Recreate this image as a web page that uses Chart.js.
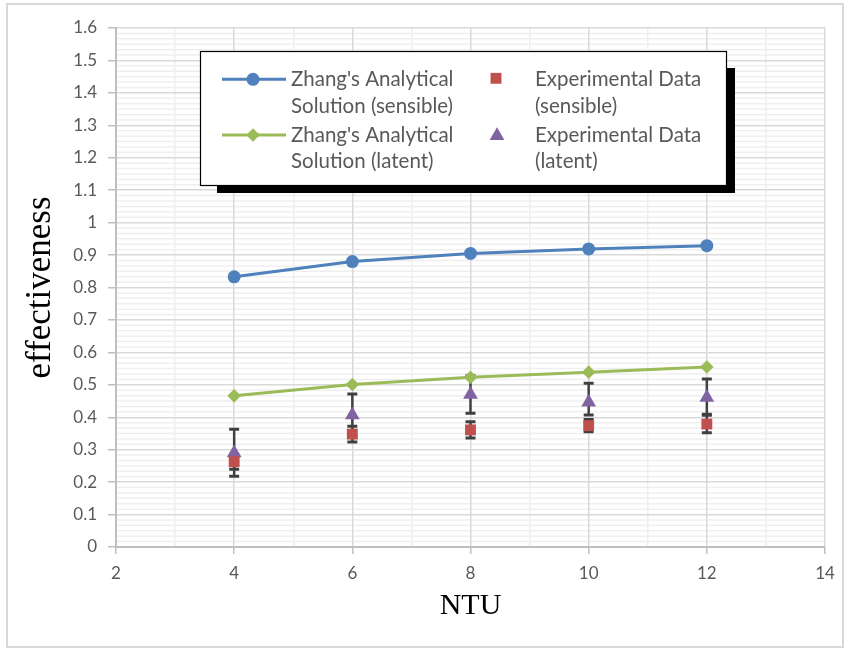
<!DOCTYPE html>
<html lang="en">
<head>
  <meta charset="UTF-8">
  <title>Effectiveness vs NTU</title>
  <script src="https://cdn.jsdelivr.net/npm/chart.js"></script>
  <style>
    html, body { margin: 0; padding: 0; background: #fff; }
    canvas { display: block; }
  </style>
</head>
<body>
  <canvas id="effChart" width="850" height="648"></canvas>

  <script>
    // NTU values where the model and the tests were evaluated
    const ntu = [4, 6, 8, 10, 12];

    // Zhang's analytical solution
    const sensibleModel = [0.833, 0.880, 0.905, 0.919, 0.929];
    const latentModel = [0.466, 0.501, 0.523, 0.539, 0.555];

    // experimental data with the ends of their error bars
    const sensibleExp = [0.263, 0.348, 0.361, 0.374, 0.379];
    const sensibleExpLow = [0.240, 0.324, 0.336, 0.355, 0.352];
    const sensibleExpHigh = [0.286, 0.372, 0.386, 0.393, 0.406];
    const latentExp = [0.290, 0.407, 0.470, 0.446, 0.461];
    const latentExpLow = [0.218, 0.342, 0.412, 0.407, 0.409];
    const latentExpHigh = [0.363, 0.472, 0.528, 0.505, 0.518];

    const yTicks = ['0', '0.1', '0.2', '0.3', '0.4', '0.5', '0.6', '0.7', '0.8', '0.9', '1',
                    '1.1', '1.2', '1.3', '1.4', '1.5', '1.6'];

    const BLUE = '#4F81BD', RED = '#C0504D', GREEN = '#9BBB59', PURPLE = '#8064A2';
    const TEXT = '#595959';

    function points(ys, lows, highs) {
      return ntu.map((x, i) => {
        const p = { x: x, y: ys[i] };
        if (lows) { p.yMin = lows[i]; p.yMax = highs[i]; }
        return p;
      });
    }

    // light minor gridlines under the major grid
    const minorGrid = {
      id: 'minorGrid',
      beforeDraw(chart) {
        const { ctx, chartArea: a, scales: { y } } = chart;
        ctx.save();
        ctx.strokeStyle = '#efefef';
        ctx.lineWidth = 1.5;
        for (let i = 0; i <= 96; i++) {
          if (i % 6 === 0) continue;
          const py = y.getPixelForValue(i / 60);
          ctx.beginPath();
          ctx.moveTo(a.left, py);
          ctx.lineTo(a.right, py);
          ctx.stroke();
        }
        ctx.restore();
      }
    };

    // vertical error bars for every point carrying yMin / yMax
    const errorBars = {
      id: 'errorBars',
      beforeDatasetsDraw(chart) {
        const { ctx, scales: { x, y } } = chart;
        ctx.save();
        ctx.strokeStyle = '#404040';
        chart.data.datasets.forEach(ds => {
          ds.data.forEach(p => {
            if (p.yMin === undefined) return;
            const px = x.getPixelForValue(p.x);
            const top = y.getPixelForValue(p.yMax);
            const bot = y.getPixelForValue(p.yMin);
            ctx.lineWidth = 2.5;
            ctx.beginPath();
            ctx.moveTo(px, top);
            ctx.lineTo(px, bot);
            ctx.stroke();
            ctx.lineWidth = 3;
            ctx.beginPath();
            ctx.moveTo(px - 5, top);
            ctx.lineTo(px + 5, top);
            ctx.moveTo(px - 5, bot);
            ctx.lineTo(px + 5, bot);
            ctx.stroke();
          });
        });
        ctx.restore();
      }
    };

    function marker(ctx, ds, x, y) {
      ctx.fillStyle = ds.backgroundColor;
      ctx.strokeStyle = ds.borderColor;
      Chart.helpers.drawPoint(ctx, {
        pointStyle: ds.pointStyle, radius: ds.pointRadius, rotation: 0, borderWidth: 0
      }, x, y);
    }

    // boxed legend with a drop shadow, two columns of wrapped labels
    const boxLegend = {
      id: 'boxLegend',
      afterDraw(chart) {
        const { ctx } = chart;
        const ds = chart.data.datasets;
        ctx.save();
        ctx.fillStyle = '#000';
        ctx.fillRect(217, 68, 518, 125);
        ctx.fillStyle = '#fff';
        ctx.fillRect(200.5, 51.5, 526, 134);
        ctx.strokeStyle = '#000';
        ctx.lineWidth = 1.2;
        ctx.strokeRect(200.5, 51.5, 526, 134);

        // line samples
        [[ds[0], 79.3], [ds[2], 135]].forEach(([d, ly]) => {
          ctx.strokeStyle = d.borderColor;
          ctx.lineWidth = 3;
          ctx.beginPath();
          ctx.moveTo(222, ly);
          ctx.lineTo(286, ly);
          ctx.stroke();
          marker(ctx, d, 253, ly);
        });
        marker(ctx, ds[1], 496, 78.3);
        marker(ctx, ds[3], 497, 135.7);

        ctx.fillStyle = TEXT;
        ctx.font = '20.5px Lato';
        ctx.textBaseline = 'alphabetic';
        ctx.textAlign = 'left';
        ctx.fillText("Zhang's Analytical", 291, 86);
        ctx.fillText('Solution (sensible)', 291, 113);
        ctx.fillText("Zhang's Analytical", 291, 141.5);
        ctx.fillText('Solution (latent)', 291, 168);
        ctx.fillText('Experimental Data', 535, 86);
        ctx.fillText('(sensible)', 535, 113);
        ctx.fillText('Experimental Data', 535, 141.5);
        ctx.fillText('(latent)', 535, 168);

        // outer chart border
        ctx.strokeStyle = '#d9d9d9';
        ctx.lineWidth = 2;
        ctx.strokeRect(7, 4, 836, 643);
        ctx.restore();
      }
    };

    Chart.defaults.font.family = 'Lato';
    Chart.defaults.color = TEXT;

    const ctx = document.getElementById('effChart').getContext('2d');
    new Chart(ctx, {
      type: 'scatter',
      data: {
        datasets: [
          {
            label: "Zhang's Analytical Solution (sensible)",
            data: points(sensibleModel),
            showLine: true,
            borderColor: BLUE, backgroundColor: BLUE, borderWidth: 3,
            pointStyle: 'circle', pointRadius: 6.5, pointBorderWidth: 0
          },
          {
            label: 'Experimental Data (sensible)',
            data: points(sensibleExp, sensibleExpLow, sensibleExpHigh),
            showLine: false,
            borderColor: RED, backgroundColor: RED,
            pointStyle: 'rect', pointRadius: 7.7, pointBorderWidth: 0
          },
          {
            label: "Zhang's Analytical Solution (latent)",
            data: points(latentModel),
            showLine: true,
            borderColor: GREEN, backgroundColor: GREEN, borderWidth: 3,
            pointStyle: 'rectRot', pointRadius: 6.8, pointBorderWidth: 0
          },
          {
            label: 'Experimental Data (latent)',
            data: points(latentExp, latentExpLow, latentExpHigh),
            showLine: false,
            borderColor: PURPLE, backgroundColor: PURPLE,
            pointStyle: 'triangle', pointRadius: 8.5, pointBorderWidth: 0
          }
        ]
      },
      options: {
        responsive: false,
        devicePixelRatio: 1,
        animation: false,
        layout: { padding: { left: 0, top: 28, right: 25, bottom: 0 } },
        plugins: { legend: { display: false }, tooltip: { enabled: false } },
        scales: {
          x: {
            type: 'linear', min: 2, max: 14,
            afterFit: s => { s.height = 101; },
            ticks: {
              stepSize: 1, autoSkip: false, padding: 9,
              font: { size: 17 }, color: TEXT,
              callback: v => (v % 2 === 0 ? String(v) : '')
            },
            grid: {
              lineWidth: 1.5, tickLength: 7,
              color: c => (c.tick && c.tick.value % 2 !== 0 ? '#efefef' : '#d9d9d9'),
              tickColor: c => (c.tick && c.tick.value % 2 !== 0 ? 'rgba(0,0,0,0)' : '#bfbfbf')
            },
            border: { color: '#bfbfbf', width: 2 },
            title: {
              display: true, text: 'NTU', color: '#000',
              font: { family: 'Liberation Serif', size: 30 },
              padding: { top: 0, bottom: 24 }
            }
          },
          y: {
            type: 'linear', min: 0, max: 1.6,
            afterFit: s => { s.width = 116; },
            ticks: {
              stepSize: 0.1, autoSkip: false, padding: 11,
              font: { size: 17 }, color: TEXT,
              callback: (v, i) => yTicks[i]
            },
            grid: { lineWidth: 1.5, tickLength: 8, color: '#d9d9d9', tickColor: '#bfbfbf' },
            border: { color: '#bfbfbf', width: 2 },
            title: {
              display: true, text: 'effectiveness', color: '#000',
              font: { family: 'Liberation Serif', size: 35 },
              padding: { top: 20, bottom: 0 }
            }
          }
        }
      },
      plugins: [minorGrid, errorBars, boxLegend]
    });
  </script>
</body>
</html>
